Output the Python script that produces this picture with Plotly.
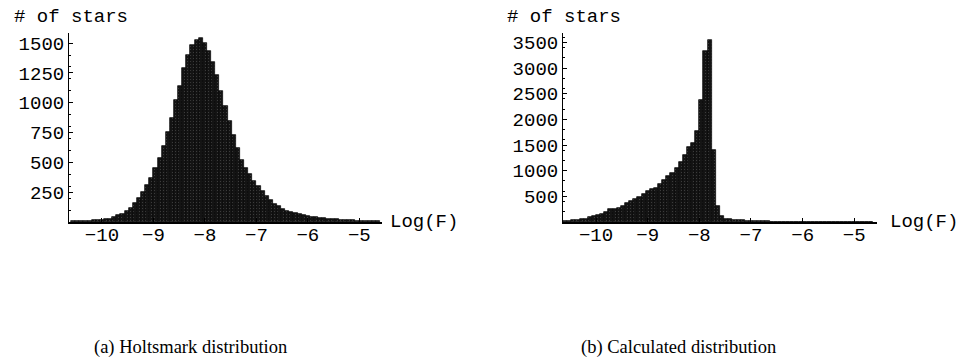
import plotly.graph_objects as go
import numpy as np

# ---- data ----
bin_width = 0.08
# (a) Holtsmark distribution: bin centres start / values
holts_first_center = -10.56
holts_counts = [5, 6, 7, 8, 10, 13, 17, 20, 24, 29,
                40, 55, 70, 92, 120, 157, 199, 255, 310, 372,
                450, 540, 640, 755, 875, 1020, 1140, 1290, 1400, 1485,
                1525, 1540, 1505, 1430, 1345, 1230, 1100, 970, 845, 730,
                620, 520, 450, 400, 348, 300, 262, 222, 182, 155,
                132, 112, 96, 83, 73, 64, 56, 49, 43, 39,
                35, 31, 28, 25, 22, 20, 18, 16, 14, 12,
                11, 10, 9, 8, 7]
# (b) Calculated distribution
calc_first_center = -10.60
calc_counts = [18, 25, 32, 42, 52, 65, 90, 120, 146, 165,
               190, 250, 257, 276, 307, 373, 400, 440, 480, 550,
               600, 646, 660, 743, 827, 900, 960, 1054, 1171, 1313,
               1455, 1540, 1780, 2370, 3343, 3550, 1410, 307, 113, 68,
               49, 40, 35, 30, 28, 25, 22, 20, 18, 17,
               6, 6, 5, 5, 5, 5, 4, 4, 4, 4,
               4, 3, 3, 3, 3, 3, 3, 3, 2, 2,
               2, 2, 2, 2, 2]

x_ticks = [-10, -9, -8, -7, -6, -5]
y_ticks_a = [250, 500, 750, 1000, 1250, 1500]
y_ticks_b = [500, 1000, 1500, 2000, 2500, 3000, 3500]
x_range = [-10.64, -4.56]
y_range_a = [0, 1585]
y_range_b = [0, 3686]

ylabel = "# of stars"
xlabel = "Log(F)"
captions = ["(a) Holtsmark distribution", "(b) Calculated distribution"]

W, H = 961, 360
MONO = "Liberation Mono, Courier New, monospace"
SERIF = "Liberation Serif, DejaVu Serif, serif"

xa = holts_first_center + bin_width * np.arange(len(holts_counts))
xb = calc_first_center + bin_width * np.arange(len(calc_counts))

fig = go.Figure()

def bar(x, y, xaxis, yaxis):
    return go.Bar(
        x=x, y=y, width=bin_width, xaxis=xaxis, yaxis=yaxis,
        marker=dict(color="#141414", line=dict(color="black", width=0.7),
                    pattern=dict(shape=".", fgcolor="#7a7a7a", bgcolor="#141414",
                                 size=3, solidity=0.1)),
        showlegend=False, hoverinfo="x+y")

fig.add_trace(bar(xa, holts_counts, "x", "y"))
fig.add_trace(bar(xb, calc_counts, "x2", "y2"))

y_top = 1 - 33 / H
y_bot = 1 - 222 / H

common_x = dict(range=x_range, tickvals=x_ticks, showline=True, linecolor="black",
                linewidth=2, ticks="inside", ticklen=4, tickcolor="black",
                showgrid=False, zeroline=False, ticklabelstandoff=-6,
                tickfont=dict(family=MONO, size=19, color="black"))
common_y = dict(showline=True, linecolor="black", linewidth=1, ticks="inside",
                ticklen=4, tickcolor="black", showgrid=False, zeroline=False,
                tickfont=dict(family=MONO, size=19, color="black"),
                minor=dict(ticks="inside", ticklen=2, tickcolor="black", nticks=5))

fig.update_layout(
    width=W, height=H, margin=dict(l=0, r=0, t=0, b=0),
    paper_bgcolor="white", plot_bgcolor="white", bargap=0,
    xaxis=dict(common_x, domain=[69 / W, 382 / W], anchor="y"),
    yaxis=dict(common_y, domain=[y_bot, y_top], range=y_range_a, tickvals=y_ticks_a, anchor="x"),
    xaxis2=dict(common_x, domain=[563 / W, 877 / W], anchor="y2"),
    yaxis2=dict(common_y, domain=[y_bot, y_top], range=y_range_b, tickvals=y_ticks_b, anchor="x2"),
)

ann = []
for xl in (12, 505):
    ann.append(dict(text=ylabel, x=xl / W, y=1 - 17 / H, xref="paper", yref="paper",
                    xanchor="left", yanchor="middle", showarrow=False,
                    font=dict(family=MONO, size=19, color="black")))
for xl in (388, 888):
    ann.append(dict(text=xlabel, x=xl / W, y=1 - 222 / H, xref="paper", yref="paper",
                    xanchor="left", yanchor="middle", showarrow=False,
                    font=dict(family=MONO, size=19, color="black")))
for xc, cap in zip((190, 678), captions):
    ann.append(dict(text=cap, x=xc / W, y=1 - 347 / H, xref="paper", yref="paper",
                    xanchor="center", yanchor="middle", showarrow=False,
                    font=dict(family=SERIF, size=18.5, color="black")))
fig.update_layout(annotations=ann)

fig.write_html("out.html")
